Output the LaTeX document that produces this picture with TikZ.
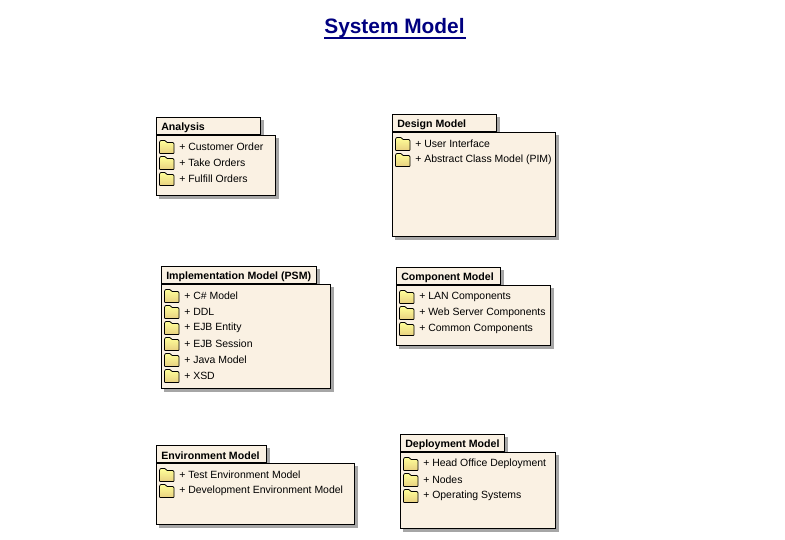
\documentclass[tikz,border=0pt]{standalone}
\usepackage{fontspec}
\setmainfont{Liberation Sans}
\definecolor{pkgfill}{HTML}{FAF1E3}
\definecolor{pkgshadow}{HTML}{A6A6A6}
\definecolor{foldtop}{HTML}{FFFF99}
\definecolor{foldbot}{HTML}{E8D080}
\definecolor{titleblue}{HTML}{000080}
\tikzset{
  pkgpart/.style={draw=black,line width=0.75pt,fill=pkgfill,outer sep=0pt,inner sep=0pt},
  pkgshade/.style={fill=pkgshadow,draw=none},
  pkgtitle/.style={anchor=west,inner sep=0pt,font=\fontsize{7.95}{9}\selectfont\bfseries},
  pkgitem/.style={anchor=west,inner sep=0pt,font=\fontsize{7.85}{9}\selectfont},
  foldericon/.style={draw=black,line width=0.55pt,top color=foldtop,bottom color=foldbot,rounded corners=0.4pt}
}
% #1 id, #2 x, #3 y of tab top, #4 tab width, #5 body width, #6 body height, #7 title, #8 items
\newcommand{\umlpkg}[8]{
  \fill[pkgshade] (#2+3,#3+3) rectangle (#2+#4+2.8,#3+21);
  \fill[pkgshade] (#2+3,#3+21) rectangle (#2+#5+2.8,#3+18+#6+2.6);
  \node[pkgpart,minimum width=#4*0.75pt-0.75pt,minimum height=12.75pt,anchor=north west] (#1tab) at (#2+0.5,#3+0.5) {};
  \node[pkgpart,minimum width=#5*0.75pt-0.75pt,minimum height=#6*0.75pt-0.4pt,anchor=north west] (#1body) at (#2+0.5,#3+18.5) {};
  \node[pkgtitle] (#1title) at (#2+5,#3+10.3) {#7};
  \foreach \itemtext [count=\i] in {#8} {
    \pgfmathsetmacro{\rowy}{#3+18+11+(\i-1)*16}
    \draw[foldericon] (#2+3.5,\rowy+7.5) -- (#2+3.5,\rowy-4) -- (#2+4.5,\rowy-5.5) -- (#2+9,\rowy-5.5) -- (#2+11,\rowy-3.5) -- (#2+17,\rowy-3.5) -- (#2+18,\rowy-2.5) -- (#2+18,\rowy+7.5) -- cycle;
    \node[pkgitem] (#1item\i) at (#2+23,\rowy+0.9) {+ \itemtext};
  }
}
\begin{document}
\begin{tikzpicture}[x=0.75pt,y=-0.75pt]
\useasboundingbox (0,0) rectangle (785,539);
\node[anchor=center,inner sep=0pt,text=titleblue,font=\fontsize{15.65}{18}\selectfont\bfseries] (sysmodel) at (394.5,28) {System Model};
\fill[titleblue] (324,36.5) rectangle (465.5,38.8);
\umlpkg{an}{156}{117}{105}{120}{61}{Analysis}{Customer Order,Take Orders,Fulfill Orders}
\umlpkg{de}{392}{114}{105}{164}{105}{Design Model}{User Interface,Abstract Class Model (PIM)}
\umlpkg{im}{161}{266}{156}{170}{105}{Implementation Model (PSM)}{C\# Model,DDL,EJB Entity,EJB Session,Java Model,XSD}
\umlpkg{co}{396}{267}{105}{155}{61}{Component Model}{LAN Components,Web Server Components,Common Components}
\umlpkg{en}{156}{445}{111}{199}{62}{Environment Model}{Test Environment Model,Development Environment Model}
\umlpkg{dp}{400}{434}{105}{156}{77}{Deployment Model}{Head Office Deployment,Nodes,Operating Systems}
\end{tikzpicture}
\end{document}
